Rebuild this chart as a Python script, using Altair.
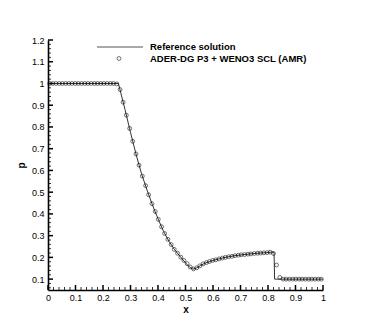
import altair as alt
import pandas as pd

# Reference solution (breakpoints)
ref_x = [0.0, 0.256, 0.28, 0.30, 0.32, 0.34, 0.36, 0.38, 0.40, 0.42, 0.44, 0.46, 0.48,
         0.50, 0.515, 0.527, 0.54, 0.555, 0.57, 0.60, 0.64, 0.68, 0.72, 0.76, 0.80,
         0.815, 0.822, 0.824, 1.0]
ref_p = [1.0, 1.0, 0.88, 0.775, 0.675, 0.585, 0.51, 0.44, 0.378, 0.32, 0.274, 0.236, 0.205,
         0.175, 0.155, 0.146, 0.151, 0.163, 0.173, 0.186, 0.199, 0.208, 0.214, 0.219, 0.222,
         0.225, 0.222, 0.10, 0.10]

# Numerical solution (circles)
num_x = [0.006, 0.017, 0.029, 0.041, 0.052, 0.064, 0.076, 0.087, 0.099, 0.110,
         0.122, 0.134, 0.145, 0.157, 0.169, 0.180, 0.192, 0.203, 0.215, 0.227,
         0.238, 0.250, 0.262, 0.273, 0.285, 0.297, 0.308, 0.320, 0.331, 0.343,
         0.355, 0.366, 0.378, 0.390, 0.401, 0.413, 0.424, 0.436, 0.448, 0.459,
         0.471, 0.483, 0.494, 0.506, 0.517, 0.529, 0.541, 0.552, 0.564, 0.576,
         0.587, 0.599, 0.610, 0.622, 0.634, 0.645, 0.657, 0.669, 0.680, 0.692,
         0.703, 0.715, 0.727, 0.738, 0.750, 0.762, 0.773, 0.785, 0.797, 0.808,
         0.820, 0.831, 0.843, 0.855, 0.866, 0.878, 0.890, 0.901, 0.913, 0.924,
         0.936, 0.948, 0.959, 0.971, 0.983, 0.994]
num_p = [1.0, 1.0, 1.0, 1.0, 1.0, 1.0, 1.0, 1.0, 1.0, 1.0,
         1.0, 1.0, 1.0, 1.0, 1.0, 1.0, 1.0, 1.0, 1.0, 1.0,
         1.0, 0.998, 0.972, 0.914, 0.854, 0.793, 0.734, 0.676, 0.624, 0.574,
         0.530, 0.488, 0.447, 0.411, 0.375, 0.341, 0.310, 0.283, 0.259, 0.237,
         0.219, 0.201, 0.186, 0.171, 0.156, 0.147, 0.152, 0.161, 0.170, 0.176,
         0.181, 0.186, 0.189, 0.193, 0.197, 0.200, 0.203, 0.205, 0.208, 0.210,
         0.212, 0.213, 0.215, 0.216, 0.218, 0.219, 0.220, 0.221, 0.222, 0.224,
         0.218, 0.165, 0.108, 0.100, 0.100, 0.100, 0.100, 0.100, 0.100, 0.100,
         0.100, 0.100, 0.100, 0.100, 0.100, 0.100]

x_major = [0, 0.1, 0.2, 0.3, 0.4, 0.5, 0.6, 0.7, 0.8, 0.9, 1.0]
x_minor = [round(0.02 * i, 2) for i in range(51) if i % 5 != 0]
y_major = [0.1, 0.2, 0.3, 0.4, 0.5, 0.6, 0.7, 0.8, 0.9, 1.0, 1.1, 1.2]
y_minor = [round(0.02 * i, 2) for i in range(3, 61) if i % 5 != 0]

legend_labels = ["Reference solution", "ADER-DG P3 + WENO3 SCL (AMR)"]

FONT = "Liberation Sans"
W, H = 275, 250

xs = alt.Scale(domain=[0, 1], nice=False, zero=False)
ys = alt.Scale(domain=[0.05, 1.2], nice=False, zero=False)

ref_df = pd.DataFrame({"x": ref_x, "p": ref_p})
num_df = pd.DataFrame({"x": num_x, "p": num_p})

xaxis = alt.Axis(values=x_major, format="~g", ticks=False, grid=False, domainColor="black",
                 domainWidth=1.6, labelFont=FONT, labelFontSize=9, labelColor="black",
                 labelPadding=3, title="x", titleFont=FONT, titleFontSize=10,
                 titleFontWeight="bold", titleColor="black", titlePadding=2,
                 labelFlush=False, labelOverlap=False)
yaxis = alt.Axis(values=y_major, format="~g", ticks=False, grid=False, domainColor="black",
                 domainWidth=1.6, labelFont=FONT, labelFontSize=9, labelColor="black",
                 labelPadding=4, title="p", titleFont=FONT, titleFontSize=10,
                 titleFontWeight="bold", titleColor="black", titlePadding=5,
                 labelFlush=False, labelOverlap=False)


def X(f):
    return alt.X(f, scale=xs, axis=xaxis, title="x")


def Y(f):
    return alt.Y(f, scale=ys, axis=yaxis, title="p")


line = alt.Chart(ref_df).mark_line(color="#333333", strokeWidth=1).encode(
    x=X("x:Q"), y=Y("p:Q"), order="x:Q",
)

pts = alt.Chart(num_df).mark_point(shape="circle", filled=False, color="black",
                                   size=15, strokeWidth=0.8).encode(
    x=X("x:Q"), y=Y("p:Q"),
)

xmaj = alt.Chart(pd.DataFrame({"t": x_major})).mark_rule(color="black", strokeWidth=1.5).encode(
    x=X("t:Q"), y=alt.value(H), y2=alt.value(H - 5))
xmin = alt.Chart(pd.DataFrame({"t": x_minor})).mark_rule(color="black", strokeWidth=0.8).encode(
    x=X("t:Q"), y=alt.value(H), y2=alt.value(H - 3))
ymaj = alt.Chart(pd.DataFrame({"t": y_major})).mark_rule(color="black", strokeWidth=1.5).encode(
    y=Y("t:Q"), x=alt.value(0), x2=alt.value(5))
ymin = alt.Chart(pd.DataFrame({"t": y_minor})).mark_rule(color="black", strokeWidth=0.8).encode(
    y=Y("t:Q"), x=alt.value(0), x2=alt.value(3))

leg_line = alt.Chart(pd.DataFrame({"a": [0]})).mark_rule(color="#555555", strokeWidth=1).encode(
    x=alt.value(49), x2=alt.value(95), y=alt.value(7))
leg_pt = alt.Chart(pd.DataFrame({"a": [0]})).mark_point(
    shape="circle", filled=False, color="black", size=15, strokeWidth=0.8).encode(
    x=alt.value(71), y=alt.value(18.5))
leg_txt = alt.Chart(pd.DataFrame({"label": legend_labels, "yy": [6.5, 18.5]})).mark_text(
    align="left", baseline="middle", font=FONT, fontSize=9.5, fontWeight="bold",
    color="black").encode(x=alt.value(102), y=alt.Y("yy:Q", scale=None), text="label:N")

chart = alt.layer(line, xmin, xmaj, ymin, ymaj, pts, leg_line, leg_pt, leg_txt).properties(
    width=W, height=H,
    autosize=alt.AutoSizeParams(type="none"),
    padding={"left": 40, "top": 32, "right": 30, "bottom": 25},
).configure_view(stroke=None)

chart.save("out.html", embed_options={"renderer": "svg", "actions": False})
